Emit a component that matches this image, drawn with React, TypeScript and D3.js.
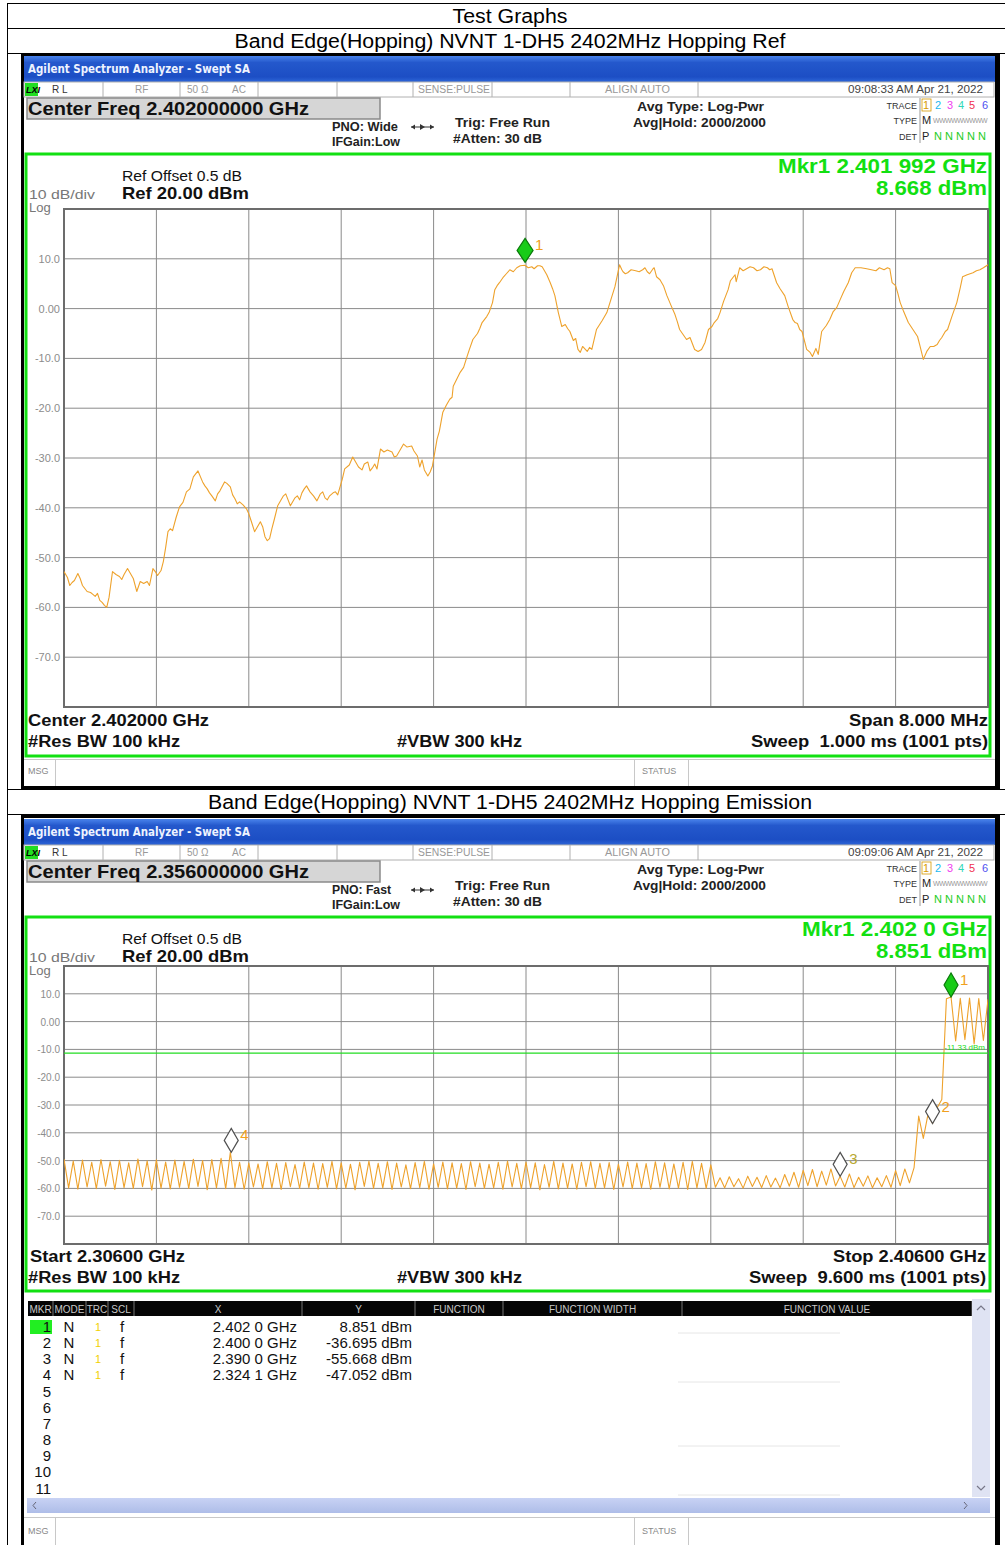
import React from 'react';
import * as d3 from 'd3';

const FONT = "'Liberation Sans', Arial, Helvetica, sans-serif";

// ---------- axis / tick data ----------
const yTickValues = [10, 0, -10, -20, -30, -40, -50, -60, -70];
const yTickLabels = ['10.0', '0.00', '-10.0', '-20.0', '-30.0', '-40.0', '-50.0', '-60.0', '-70.0'];
const levelDomain = [-80, 20];

// ---------- Plot 1 : Hopping Ref (2.398 - 2.406 GHz) ----------
const refSpanMHz = [2398, 2406];
const refFreqMHz = [
  2398.00, 2398.03, 2398.05, 2398.09, 2398.12, 2398.16, 2398.20, 2398.25, 2398.29, 2398.31,
  2398.35, 2398.37, 2398.39, 2398.42, 2398.48, 2398.52, 2398.55, 2398.60, 2398.63, 2398.66,
  2398.72, 2398.74, 2398.77, 2398.81, 2398.86, 2398.90, 2398.94, 2399.00, 2399.06, 2399.12,
  2399.16, 2399.20, 2399.24, 2399.28, 2399.31, 2399.35, 2399.39, 2399.44, 2399.48, 2399.52,
  2399.58, 2399.62, 2399.65, 2399.70, 2399.74, 2399.76, 2399.78, 2399.80, 2399.85, 2399.90,
  2399.94, 2399.98, 2400.02, 2400.06, 2400.10, 2400.16, 2400.22, 2400.26, 2400.30, 2400.35,
  2400.39, 2400.43, 2400.50, 2400.55, 2400.63, 2400.67, 2400.71, 2400.74, 2400.80, 2400.88,
  2400.94, 2401.01, 2401.06, 2401.08, 2401.12, 2401.15, 2401.19, 2401.23, 2401.28, 2401.34,
  2401.37, 2401.43, 2401.49, 2401.54, 2401.58, 2401.62, 2401.66, 2401.71, 2401.73, 2401.77,
  2401.80, 2401.86, 2401.92, 2401.99, 2402.05, 2402.10, 2402.14, 2402.18, 2402.21, 2402.25,
  2402.31, 2402.34, 2402.38, 2402.45, 2402.49, 2402.53, 2402.55, 2402.57, 2402.61, 2402.66,
  2402.70, 2402.77, 2402.81, 2402.84, 2402.88, 2402.95, 2403.01, 2403.05, 2403.10, 2403.13,
  2403.19, 2403.26, 2403.29, 2403.33, 2403.39, 2403.42, 2403.46, 2403.52, 2403.58, 2403.63,
  2403.68, 2403.75, 2403.79, 2403.82, 2403.85, 2403.91, 2403.97, 2404.03, 2404.09, 2404.13,
  2404.17, 2404.24, 2404.31, 2404.35, 2404.39, 2404.43, 2404.48, 2404.51, 2404.53, 2404.56,
  2404.60, 2404.63, 2404.72, 2404.79, 2404.85, 2404.95, 2405.03, 2405.08, 2405.13, 2405.17,
  2405.20, 2405.24, 2405.31, 2405.39, 2405.44, 2405.47, 2405.50, 2405.56, 2405.60, 2405.65,
  2405.73, 2405.78, 2405.87, 2405.93, 2406.00,
];
const refLevelDbm = [
  -52.8, -54.0, -55.6, -54.6, -53.2, -55.6, -56.8, -57.4, -57.2, -58.6,
  -59.6, -60.0, -58.0, -52.8, -53.8, -53.4, -52.2, -54.2, -56.8, -54.8,
  -54.8, -55.6, -52.2, -53.6, -50.8, -44.8, -44.6, -39.8, -36.8, -33.8,
  -32.6, -34.8, -36.2, -37.6, -38.6, -36.6, -34.8, -35.8, -38.2, -38.8,
  -40.2, -42.6, -44.8, -42.8, -45.8, -46.6, -46.2, -44.2, -39.6, -37.6,
  -38.4, -38.8, -37.6, -37.0, -35.6, -37.6, -37.2, -38.0, -37.6, -36.8,
  -35.8, -32.2, -29.8, -31.8, -30.8, -32.0, -32.2, -28.2, -28.4, -29.6,
  -27.2, -27.6, -29.6, -31.8, -32.4, -33.6, -31.6, -26.2, -20.8, -18.2,
  -15.6, -12.8, -9.6, -6.2, -5.0, -2.8, -1.6, 1.2, 3.8, 5.2,
  6.2, 7.8, 8.2, 8.7, 8.4, 8.6, 8.4, 6.8, 5.2, 2.6,
  -3.6, -3.2, -4.6, -8.2, -7.6, -8.6, -7.8, -8.2, -4.2, -2.4,
  -0.8, 4.4, 8.8, 7.4, 7.2, 7.6, 7.8, 7.4, 8.0, 6.4,
  4.6, 0.4, -1.2, -4.2, -6.2, -5.8, -8.2, -8.2, -4.2, -2.8,
  -0.8, 3.8, 6.2, 5.4, 8.2, 8.0, 8.2, 7.8, 8.2, 8.0,
  5.2, 2.6, -2.2, -3.0, -4.6, -8.2, -9.6, -8.0, -9.2, -4.6,
  -3.4, -2.2, 1.8, 5.2, 8.2, 8.0, 7.6, 8.0, 8.2, 5.2,
  4.6, 1.2, -2.8, -5.6, -10.2, -8.6, -7.6, -7.2, -5.8, -4.2,
  1.2, 6.4, 7.2, 7.8, 8.8,
];
// finer wiggles of the same trace, read between the points above
const refDetailFreqMHz = [
  2398.07, 2398.14, 2398.18, 2398.23, 2398.27, 2398.33, 2398.45, 2398.50, 2398.57, 2398.69,
  2398.79, 2398.84, 2398.88, 2398.92, 2398.97, 2399.03, 2399.09, 2399.22, 2399.26, 2399.33,
  2399.41, 2399.46, 2399.50, 2399.55, 2399.60, 2399.67, 2399.72, 2399.82, 2399.88, 2399.92,
  2399.96, 2400.00, 2400.04, 2400.08, 2400.13, 2400.19, 2400.24, 2400.28, 2400.33, 2400.37,
  2400.41, 2400.47, 2400.52, 2400.58, 2400.60, 2400.65, 2400.69, 2400.77, 2400.84, 2400.86,
  2400.91, 2400.97, 2401.03, 2401.10, 2401.17, 2401.25, 2401.31, 2401.36, 2401.40, 2401.46,
  2401.51, 2401.56, 2401.60, 2401.64, 2401.68, 2401.75, 2401.83, 2401.89, 2401.95, 2402.02,
  2402.07, 2402.12, 2402.16, 2402.23, 2402.28, 2402.36, 2402.41, 2402.43, 2402.47, 2402.83,
  2402.86, 2402.91, 2402.98, 2403.03, 2403.07, 2403.11, 2403.16, 2403.22, 2403.31, 2403.36,
  2403.44, 2403.49, 2403.55, 2403.61, 2403.66, 2403.71, 2403.77, 2403.81, 2403.88, 2403.94,
  2404.00, 2404.06, 2404.11, 2404.20, 2404.27, 2404.33, 2404.37, 2404.41, 2404.46, 2404.58,
  2404.66, 2404.69, 2404.75, 2404.82, 2404.90, 2404.99, 2405.06, 2405.10, 2405.15, 2405.22,
  2405.27, 2405.35, 2405.41, 2405.53, 2405.58, 2405.63, 2405.69, 2405.76, 2405.82, 2405.90,
  2405.96,
];
const refDetailLevelDbm = [
  -55.0, -54.2, -56.2, -57.0, -57.8, -59.0, -53.4, -54.4, -53.0, -55.2,
  -52.8, -52.6, -48.0, -44.2, -42.0, -38.9, -36.2, -35.6, -37.0, -37.2,
  -35.1, -37.4, -39.2, -39.4, -41.2, -44.0, -43.8, -42.4, -38.4, -37.2,
  -39.6, -38.0, -38.4, -36.2, -36.8, -38.6, -36.8, -38.4, -37.0, -37.4,
  -34.2, -31.4, -30.6, -32.4, -31.2, -32.6, -31.2, -28.8, -28.8, -29.8,
  -28.4, -27.8, -28.6, -30.4, -32.8, -24.6, -19.4, -17.8, -14.2, -11.8,
  -8.2, -5.6, -4.0, -2.2, -0.8, 4.6, 7.0, 7.4, 8.6, 8.2,
  8.0, 8.6, 7.6, 4.0, -0.8, -4.0, -6.4, -6.0, -8.8, 7.8,
  7.0, 7.8, 7.4, 8.2, 7.0, 8.2, 5.8, 2.6, -2.6, -5.2,
  -7.0, -8.6, -6.8, -3.6, -2.0, 1.4, 5.6, 6.8, 7.6, 8.4,
  7.6, 8.4, 7.8, 4.0, 0.4, -2.8, -4.2, -6.4, -8.8, -4.0,
  -0.6, 0.2, 3.4, 7.2, 8.2, 7.8, 8.2, 7.8, 8.0, 3.0,
  -0.6, -4.2, -7.4, -7.6, -6.4, -4.6, -1.4, 4.2, 6.8, 7.6,
  8.2,
];
const refMarkerFreqMHz = 2401.992;
const refMarkerLevel = 8.668;

// ---------- Plot 2 : Hopping Emission (2.306 - 2.406 GHz) ----------
const emiSpanMHz = [2306, 2406];
const emiStepMHz = 0.5; // spacing of the points
const emiLevelDbm = [
  -49.5, -59.8, -50.2, -60.3, -49.8, -59.5, -50.6, -60.1, -49.6, -59.2,
  -50.4, -60.4, -49.9, -59.7, -50.8, -60.0, -49.4, -59.4, -50.1, -60.6,
  -49.7, -59.9, -50.5, -60.2, -49.8, -59.6, -50.3, -60.0, -49.5, -59.3,
  -50.0, -60.5, -49.6, -59.8, -49.2, -60.1, -47.05, -59.7, -50.6, -60.3,
  -50.9, -59.5, -51.2, -60.1, -50.4, -59.8, -51.0, -60.4, -50.7, -59.4,
  -51.4, -60.0, -50.5, -59.7, -50.9, -60.3, -51.1, -59.6, -50.3, -60.2,
  -50.8, -59.9, -51.3, -60.5, -50.6, -59.3, -50.2, -60.0, -51.0, -59.8,
  -50.4, -60.4, -50.9, -59.5, -51.5, -60.1, -50.7, -59.7, -50.3, -60.3,
  -51.2, -59.6, -50.5, -60.2, -50.8, -59.9, -51.1, -60.4, -50.4, -59.4,
  -50.9, -60.0, -51.3, -59.8, -50.6, -60.3, -50.2, -59.5, -51.0, -60.1,
  -50.5, -59.7, -50.8, -60.5, -51.4, -59.6, -50.3, -60.2, -50.9, -59.9,
  -51.2, -60.3, -50.6, -59.4, -50.4, -60.0, -51.0, -59.8, -50.7, -60.4,
  -51.3, -59.5, -50.5, -60.1, -50.9, -59.7, -51.1, -60.3, -50.4, -59.6,
  -50.8, -60.2, -51.2, -59.9, -50.6, -60.4, -50.3, -59.8, -51.0, -60.0,
  -51.5, -59.6, -56.2, -59.8, -55.8, -59.4, -56.5, -59.9, -55.6, -59.3,
  -56.0, -59.7, -55.4, -59.5, -56.3, -59.8, -55.0, -59.2, -54.2, -59.6,
  -53.5, -59.0, -53.2, -59.4, -53.8, -58.8, -53.0, -59.1, -55.668, -59.5,
  -54.8, -59.7, -56.0, -59.2, -55.5, -59.8, -56.2, -59.4, -55.4, -59.6,
  -53.6, -59.0, -53.0, -58.0, -52.5, -34.0, -42.0, -33.5, -36.695, -31.0,
  -28.0, 8.2, 8.851, -7.0, 8.4, -6.5, 8.5, -8.0, 8.3, -6.8,
  8.0,
];
const emiMarkerIds = ['1', '2', '3', '4'];
const emiMarkerFreqMHz = [2402.0, 2400.0, 2390.0, 2324.1];
const emiMarkerLevel = [8.851, -36.695, -55.668, -47.052];
const emiMarkerLabelColor = ['#f0a020', '#f0a020', '#b8a830', '#f0a020'];
const emiDisplayLine = -11.33;

// marker table
const tableRowIds = ['1', '2', '3', '4', '5', '6', '7', '8', '9', '10', '11'];
const tableMode = ['N', 'N', 'N', 'N'];
const tableScl = ['f', 'f', 'f', 'f'];
const tableX = ['2.402 0 GHz', '2.400 0 GHz', '2.390 0 GHz', '2.324 1 GHz'];
const tableY = ['8.851 dBm', '-36.695 dBm', '-55.668 dBm', '-47.052 dBm'];
const tableHeaders = ['MKR', 'MODE', 'TRC', 'SCL', 'X', 'Y', 'FUNCTION', 'FUNCTION WIDTH', 'FUNCTION VALUE'];
const tableCols = [28, 53, 86, 108, 134, 302, 415, 503, 682, 972];

const GREEN = '#12e012';
const TRACE = '#eea22c';
const PRE = { whiteSpace: 'pre' as const };

type HeaderProps = {
  b: number;
  centerText: string;
  pno: string;
  pnoW: number;
  time: string;
  mkr1: string;
  mkr1W: number;
  mkrLevel: string;
};

function Header({ b, centerText, pno, pnoW, time, mkr1, mkr1W, mkrLevel }: HeaderProps) {
  const seps = [103, 180, 258, 337, 413, 492, 570, 698];
  const traceColors = ['#d89a00', '#20b8f0', '#f040f0', '#30d8b8', '#f03050', '#5050f0'];
  const traceX = [926, 938, 950, 961, 972, 985];
  return (
    <g>
      {/* blue title bar */}
      <rect x={24} y={b + 3} width={971} height={26} fill="url(#blueBar)" />
      <text x={28} y={b + 20} fill="#eef3ff" fontSize={12} fontWeight="bold" fontFamily="'DejaVu Sans', Verdana, sans-serif" textLength={222} lengthAdjust="spacingAndGlyphs">Agilent Spectrum Analyzer - Swept SA</text>
      {/* status row */}
      <rect x={24} y={b + 29} width={970} height={15} fill="#ffffff" stroke="#b0b0b0" strokeWidth={1} />
      {seps.map((sx) => (
        <line key={sx} x1={sx} x2={sx} y1={b + 29} y2={b + 44} stroke="#b0b0b0" />
      ))}
      <rect x={25} y={b + 30} width={13} height={13} fill="#22dd22" />
      <text x={26} y={b + 40} fontSize={9} fontWeight="bold" fill="#000" fontStyle="italic">LXI</text>
      <text x={52} y={b + 40} fontSize={10} fill="#333" style={PRE}>R L</text>
      <text x={135} y={b + 40} fontSize={10} fill="#999">RF</text>
      <text x={187} y={b + 40} fontSize={10} fill="#999">50 Ω</text>
      <text x={232} y={b + 40} fontSize={10} fill="#999">AC</text>
      <text x={418} y={b + 40} fontSize={10} fill="#999" textLength={72} lengthAdjust="spacingAndGlyphs">SENSE:PULSE</text>
      <text x={605} y={b + 40} fontSize={10} fill="#999" textLength={65} lengthAdjust="spacingAndGlyphs">ALIGN AUTO</text>
      <text x={983} y={b + 40} fontSize={10} fill="#444" textAnchor="end" textLength={135} lengthAdjust="spacingAndGlyphs">{time}</text>
      {/* center freq box */}
      <rect x={27} y={b + 45} width={353} height={21} fill="#d6d6d6" stroke="#8a8a8a" strokeWidth={1.5} />
      <text x={28} y={b + 62} fontSize={18} fontWeight="bold" fill="#111" textLength={281} lengthAdjust="spacingAndGlyphs">{centerText}</text>
      {/* PNO / IFGain */}
      <text x={332} y={b + 78} fontSize={12} fontWeight="bold" fill="#222" textLength={pnoW} lengthAdjust="spacingAndGlyphs">{pno}</text>
      <text x={332} y={b + 93} fontSize={12} fontWeight="bold" fill="#222" textLength={68} lengthAdjust="spacingAndGlyphs">IFGain:Low</text>
      <line x1={411} x2={434} y1={b + 74} y2={b + 74} stroke="#333" strokeWidth={1} />
      <path d={`M411,${b + 74} l4,-2.5 v5 z M434,${b + 74} l-4,-2.5 v5 z M420,${b + 71} l5,3 l-5,3 z`} fill="#333" />
      {/* Trig / Atten */}
      <text x={455} y={b + 74} fontSize={13} fontWeight="bold" fill="#222" textLength={95} lengthAdjust="spacingAndGlyphs">Trig: Free Run</text>
      <text x={453} y={b + 90} fontSize={13} fontWeight="bold" fill="#222" textLength={89} lengthAdjust="spacingAndGlyphs">#Atten: 30 dB</text>
      {/* Avg */}
      <text x={637} y={b + 58} fontSize={13} fontWeight="bold" fill="#222" textLength={127} lengthAdjust="spacingAndGlyphs">Avg Type: Log-Pwr</text>
      <text x={633} y={b + 74} fontSize={13} fontWeight="bold" fill="#222" textLength={133} lengthAdjust="spacingAndGlyphs">Avg|Hold: 2000/2000</text>
      {/* trace block */}
      <text x={917} y={b + 56} fontSize={9} fill="#333" textAnchor="end">TRACE</text>
      <text x={917} y={b + 71} fontSize={9} fill="#333" textAnchor="end">TYPE</text>
      <text x={917} y={b + 87} fontSize={9} fill="#333" textAnchor="end">DET</text>
      <line x1={920} x2={920} y1={b + 45} y2={b + 90} stroke="#999" />
      <rect x={922} y={b + 46} width={9} height={12} fill="none" stroke="#d89a00" strokeWidth={0.8} />
      {traceX.map((tx, i) => (
        <text key={tx} x={tx} y={b + 56} fontSize={11} fill={traceColors[i]} textAnchor="middle">{i + 1}</text>
      ))}
      <text x={922} y={b + 71} fontSize={11} fill="#222">M</text>
      <text x={933} y={b + 70} fontSize={7} fill="#999" letterSpacing={-0.6}>WWWWWWWWW</text>
      <text x={922} y={b + 87} fontSize={11} fill="#222">P</text>
      <text x={934} y={b + 87} fontSize={10} fill="#22cc22" textLength={52} lengthAdjust="spacingAndGlyphs">N N N N N</text>
      {/* green box (top part text) */}
      <text x={987} y={b + 120} fontSize={21} fontWeight="bold" fill={GREEN} textAnchor="end" textLength={mkr1W} lengthAdjust="spacingAndGlyphs">{mkr1}</text>
      <text x={987} y={b + 142} fontSize={21} fontWeight="bold" fill={GREEN} textAnchor="end" textLength={111} lengthAdjust="spacingAndGlyphs">{mkrLevel}</text>
      <text x={122} y={b + 128} fontSize={14} fill="#111" textLength={120} lengthAdjust="spacingAndGlyphs">Ref Offset 0.5 dB</text>
      <text x={122} y={b + 146} fontSize={17} fontWeight="bold" fill="#111" textLength={127} lengthAdjust="spacingAndGlyphs">Ref 20.00 dBm</text>
      <text x={29} y={b + 146} fontSize={13} fill="#777" textLength={66} lengthAdjust="spacingAndGlyphs">10 dB/div</text>
      <text x={29} y={b + 159} fontSize={13} fill="#777">Log</text>
    </g>
  );
}

type Pt = { f: number; v: number };

type PlotProps = {
  id: string;
  top: number;
  bottom: number;
  span: number[];
  labelSize: number;
  trace: Pt[];
  children?: (x: d3.ScaleLinear<number, number>, y: d3.ScaleLinear<number, number>) => React.ReactNode;
};

function Plot({ id, top, bottom, span, labelSize, trace, children }: PlotProps) {
  const left = 64;
  const right = 988;
  const x = d3.scaleLinear().domain(span).range([left, right]);
  const y = d3.scaleLinear().domain(levelDomain).range([bottom, top]);
  const gridF = d3.range(1, 10).map((k) => span[0] + (k * (span[1] - span[0])) / 10);
  const gridV = d3.range(levelDomain[0] + 10, levelDomain[1], 10);
  const line = d3
    .line<Pt>()
    .x((d) => x(d.f))
    .y((d) => y(d.v));
  return (
    <g>
      <defs>
        <clipPath id={id}>
          <rect x={left} y={top - 30} width={right - left} height={bottom - top + 30} />
        </clipPath>
      </defs>
      {gridF.map((f) => (
        <line key={'v' + f} x1={x(f)} x2={x(f)} y1={top} y2={bottom} stroke="#8a8a8a" strokeWidth={1} />
      ))}
      {gridV.map((v) => (
        <line key={'h' + v} x1={left} x2={right} y1={y(v)} y2={y(v)} stroke="#8a8a8a" strokeWidth={1} />
      ))}
      <rect x={left} y={top} width={right - left} height={bottom - top} fill="none" stroke="#6c6c6c" strokeWidth={2} />
      {yTickValues.map((v, i) => (
        <text key={'t' + v} x={left - 4} y={y(v) + 4} fontSize={labelSize} fill="#8c8c8c" textAnchor="end">
          {yTickLabels[i]}
        </text>
      ))}
      <g clipPath={`url(#${id})`}>
        <path d={line(trace) || ''} fill="none" stroke={TRACE} strokeWidth={1.1} strokeLinejoin="round" />
        {children ? children(x, y) : null}
      </g>
    </g>
  );
}

function Diamond({ cx, tipY, hw, hh, fill, stroke, label, labelColor }: { cx: number; tipY: number; hw: number; hh: number; fill: string; stroke: string; label: string; labelColor: string }) {
  const cy = tipY - hh;
  return (
    <g>
      <path d={`M${cx},${cy - hh} L${cx + hw},${cy} L${cx},${cy + hh} L${cx - hw},${cy} Z`} fill={fill} stroke={stroke} strokeWidth={1.2} />
      <text x={cx + hw + 2} y={cy - hh + 12} fontSize={15} fill={labelColor}>{label}</text>
    </g>
  );
}

export default function App() {
  const refTrace: Pt[] = refFreqMHz
    .map((f, i) => ({ f, v: refLevelDbm[i] }))
    .concat(refDetailFreqMHz.map((f, i) => ({ f, v: refDetailLevelDbm[i] })))
    .sort((a, c) => a.f - c.f);
  const emiTrace: Pt[] = emiLevelDbm.map((v, i) => ({ f: emiSpanMHz[0] + i * emiStepMHz, v }));

  const b1 = 53;
  const b2 = 816;
  const p1Top = 209, p1Bot = 707;
  const p2Top = 966, p2Bot = 1244;

  const rowY = (k: number) => 1332 + k * 16.15;

  return (
    <svg width={1005} height={1545} style={{ position: 'absolute', left: 0, top: 0, display: 'block', background: '#fff' }} fontFamily={FONT}>
      <defs>
        <linearGradient id="blueBar" x1="0" y1="0" x2="0" y2="1">
          <stop offset="0" stopColor="#4a84ec" />
          <stop offset="0.25" stopColor="#2458cc" />
          <stop offset="0.8" stopColor="#1c4ec4" />
          <stop offset="1" stopColor="#2e66d8" />
        </linearGradient>
        <linearGradient id="hScroll" x1="0" y1="0" x2="0" y2="1">
          <stop offset="0" stopColor="#c8d2f4" />
          <stop offset="1" stopColor="#aebde8" />
        </linearGradient>
      </defs>
      <rect x={0} y={0} width={1005} height={1545} fill="#fff" />

      {/* ---------- outer document table ---------- */}
      <line x1={7} x2={1005} y1={3.5} y2={3.5} stroke="#000" />
      <line x1={7} x2={1005} y1={28.5} y2={28.5} stroke="#000" />
      <line x1={7} x2={1005} y1={53.5} y2={53.5} stroke="#000" />
      <line x1={7} x2={1005} y1={789.5} y2={789.5} stroke="#000" />
      <line x1={7} x2={1005} y1={814.5} y2={814.5} stroke="#000" />
      <line x1={7.5} x2={7.5} y1={3} y2={1545} stroke="#000" />
      <text x={510} y={23} fontSize={20} textAnchor="middle" fill="#000" textLength={115} lengthAdjust="spacingAndGlyphs">Test Graphs</text>
      <text x={510} y={48} fontSize={20} textAnchor="middle" fill="#000" textLength={551} lengthAdjust="spacingAndGlyphs">Band Edge(Hopping) NVNT 1-DH5 2402MHz Hopping Ref</text>
      <text x={510} y={809} fontSize={20} textAnchor="middle" fill="#000" textLength={604} lengthAdjust="spacingAndGlyphs">Band Edge(Hopping) NVNT 1-DH5 2402MHz Hopping Emission</text>

      {/* ---------- screenshot 1 ---------- */}
      <rect x={21} y={54} width={979} height={735} fill="#000" />
      <rect x={24} y={57} width={971} height={729} fill="#fff" />
      <Header b={b1} centerText="Center Freq 2.402000000 GHz" pno="PNO: Wide" pnoW={66} time="09:08:33 AM Apr 21, 2022" mkr1="Mkr1 2.401 992 GHz" mkr1W={209} mkrLevel="8.668 dBm" />
      <rect x={26} y={b1 + 101} width={964} height={602} fill="none" stroke={GREEN} strokeWidth={3} />
      <Plot id="clip1" top={p1Top} bottom={p1Bot} span={refSpanMHz} labelSize={11} trace={refTrace}>
        {(x, y) => (
          <Diamond cx={x(refMarkerFreqMHz)} tipY={y(refMarkerLevel) - 3} hw={8} hh={12} fill="#18cc18" stroke="#0a7a0a" label="1" labelColor="#f0a020" />
        )}
      </Plot>
      <text x={28} y={p1Bot + 19} fontSize={16} fontWeight="bold" fill="#111" textLength={181} lengthAdjust="spacingAndGlyphs">Center 2.402000 GHz</text>
      <text x={988} y={p1Bot + 19} fontSize={16} fontWeight="bold" fill="#111" textAnchor="end" textLength={139} lengthAdjust="spacingAndGlyphs">Span 8.000 MHz</text>
      <text x={28} y={p1Bot + 40} fontSize={16} fontWeight="bold" fill="#111" textLength={152} lengthAdjust="spacingAndGlyphs">#Res BW 100 kHz</text>
      <text x={397} y={p1Bot + 40} fontSize={16} fontWeight="bold" fill="#111" textLength={125} lengthAdjust="spacingAndGlyphs">#VBW 300 kHz</text>
      <text x={988} y={p1Bot + 40} fontSize={16} fontWeight="bold" fill="#111" textAnchor="end" textLength={237} lengthAdjust="spacingAndGlyphs" style={PRE}>Sweep  1.000 ms (1001 pts)</text>
      <line x1={24} x2={995} y1={759.5} y2={759.5} stroke="#c8c8c8" />
      <line x1={55.5} x2={55.5} y1={760} y2={786} stroke="#c8c8c8" />
      <line x1={634.5} x2={634.5} y1={760} y2={786} stroke="#c8c8c8" />
      <line x1={688.5} x2={688.5} y1={760} y2={786} stroke="#c8c8c8" />
      <text x={28} y={774} fontSize={9} fill="#888">MSG</text>
      <text x={642} y={774} fontSize={9} fill="#888">STATUS</text>

      {/* ---------- screenshot 2 ---------- */}
      <rect x={21} y={815} width={979} height={740} fill="#000" />
      <rect x={24} y={818} width={971} height={740} fill="#fff" />
      <Header b={b2} centerText="Center Freq 2.356000000 GHz" pno="PNO: Fast" pnoW={59} time="09:09:06 AM Apr 21, 2022" mkr1="Mkr1 2.402 0 GHz" mkr1W={185} mkrLevel="8.851 dBm" />
      <rect x={26} y={b2 + 101} width={964} height={p2Bot + 47 - (b2 + 101)} fill="none" stroke={GREEN} strokeWidth={3} />
      <Plot id="clip2" top={p2Top} bottom={p2Bot} span={emiSpanMHz} labelSize={10} trace={emiTrace}>
        {(x, y) => (
          <g>
            <line x1={64} x2={988} y1={y(emiDisplayLine)} y2={y(emiDisplayLine)} stroke="#22dd22" strokeWidth={1.2} />
            {emiMarkerIds.map((id, i) => (
              <Diamond
                key={id}
                cx={x(emiMarkerFreqMHz[i])}
                tipY={y(emiMarkerLevel[i])}
                hw={7}
                hh={12}
                fill={i === 0 ? '#18cc18' : '#ffffff'}
                stroke={i === 0 ? '#0a7a0a' : '#505050'}
                label={id}
                labelColor={emiMarkerLabelColor[i]}
              />
            ))}
          </g>
        )}
      </Plot>
      <text x={985} y={1050} fontSize={8} fill="#22dd22" textAnchor="end">-11.33 dBm</text>
      <text x={30} y={p2Bot + 18} fontSize={16} fontWeight="bold" fill="#111" textLength={155} lengthAdjust="spacingAndGlyphs">Start 2.30600 GHz</text>
      <text x={986} y={p2Bot + 18} fontSize={16} fontWeight="bold" fill="#111" textAnchor="end" textLength={153} lengthAdjust="spacingAndGlyphs">Stop 2.40600 GHz</text>
      <text x={28} y={p2Bot + 39} fontSize={16} fontWeight="bold" fill="#111" textLength={152} lengthAdjust="spacingAndGlyphs">#Res BW 100 kHz</text>
      <text x={397} y={p2Bot + 39} fontSize={16} fontWeight="bold" fill="#111" textLength={125} lengthAdjust="spacingAndGlyphs">#VBW 300 kHz</text>
      <text x={986} y={p2Bot + 39} fontSize={16} fontWeight="bold" fill="#111" textAnchor="end" textLength={237} lengthAdjust="spacingAndGlyphs" style={PRE}>Sweep  9.600 ms (1001 pts)</text>

      {/* marker table */}
      <rect x={28} y={1301} width={944} height={15} fill="#050505" />
      {tableHeaders.map((h, i) => (
        <g key={h}>
          <line x1={tableCols[i + 1]} x2={tableCols[i + 1]} y1={1301} y2={1316} stroke="#777" />
          <text x={(tableCols[i] + tableCols[i + 1]) / 2} y={1312.5} fontSize={10} fill="#c8c8c8" textAnchor="middle">{h}</text>
        </g>
      ))}
      <rect x={972} y={1299} width={18} height={198} fill="#dfe3f3" />
      <path d="M977,1310 l4,-4 l4,4" fill="none" stroke="#778" strokeWidth={1.2} />
      <path d="M977,1486 l4,4 l4,-4" fill="none" stroke="#778" strokeWidth={1.2} />
      <rect x={30} y={1320} width={22} height={14} fill="#22ee22" />
      {tableRowIds.map((id, k) => (
        <text key={id} x={51} y={rowY(k)} fontSize={15} fill="#111" textAnchor="end">{id}</text>
      ))}
      {tableMode.map((m, k) => (
        <g key={'r' + k}>
          <text x={69} y={rowY(k)} fontSize={15} fill="#111" textAnchor="middle">{m}</text>
          <text x={98} y={rowY(k) - 1} fontSize={11} fill="#f2d000" textAnchor="middle">1</text>
          <text x={122} y={rowY(k)} fontSize={15} fill="#111" textAnchor="middle">{tableScl[k]}</text>
          <text x={297} y={rowY(k)} fontSize={15} fill="#111" textAnchor="end">{tableX[k]}</text>
          <text x={412} y={rowY(k)} fontSize={15} fill="#111" textAnchor="end">{tableY[k]}</text>
        </g>
      ))}
      {[1333, 1382, 1446, 1495].map((ly) => (
        <line key={ly} x1={678} x2={840} y1={ly} y2={ly} stroke="#e6e6e6" />
      ))}
      <rect x={27} y={1498} width={963} height={15} fill="url(#hScroll)" />
      <path d="M36,1502 l-3,3.5 l3,3.5" fill="none" stroke="#667" strokeWidth={1} />
      <path d="M964,1502 l3,3.5 l-3,3.5" fill="none" stroke="#667" strokeWidth={1} />
      <line x1={24} x2={995} y1={1517.5} y2={1517.5} stroke="#c8c8c8" />
      <line x1={55.5} x2={55.5} y1={1518} y2={1545} stroke="#c8c8c8" />
      <line x1={634.5} x2={634.5} y1={1518} y2={1545} stroke="#c8c8c8" />
      <line x1={688.5} x2={688.5} y1={1518} y2={1545} stroke="#c8c8c8" />
      <text x={28} y={1534} fontSize={9} fill="#888">MSG</text>
      <text x={642} y={1534} fontSize={9} fill="#888">STATUS</text>
    </svg>
  );
}
